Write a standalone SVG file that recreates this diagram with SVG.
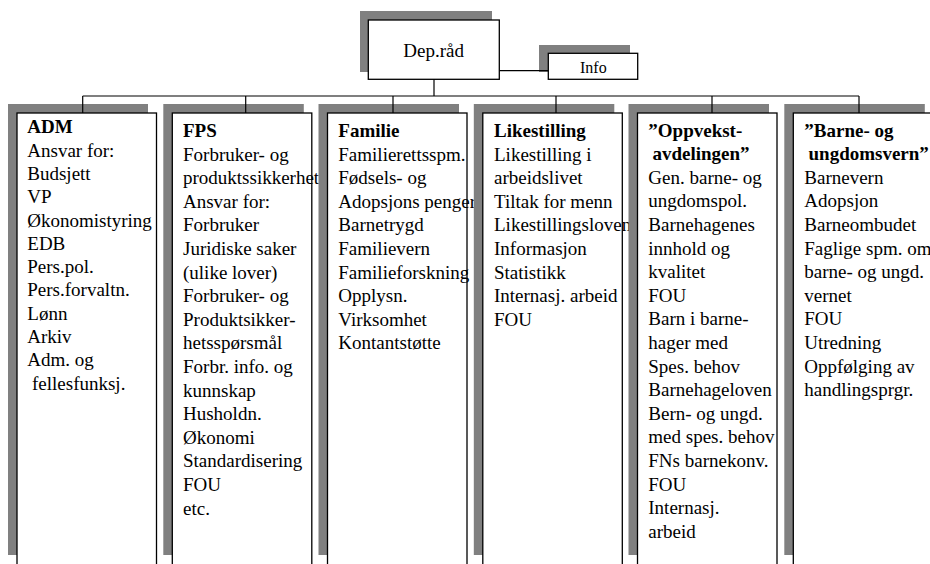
<svg xmlns="http://www.w3.org/2000/svg" width="930" height="564" viewBox="0 0 930 564">
<style>
.sh{fill:#808080;stroke:none}
.bx{fill:#fff;stroke:#000;stroke-width:1.3}
.t{font-size:19px;fill:#000}
.b{font-weight:bold}
.c{stroke:#000;stroke-width:1.2;fill:none}
</style>
<rect width="930" height="564" fill="#fff"/>
<g id="dep">
<rect class="sh" x="360" y="11" width="132" height="61"/>
<rect class="bx" x="368.3" y="20" width="131" height="59.3"/>
<text class="t" font-family="Liberation Serif, Times New Roman, serif" x="433.7" y="56.7" text-anchor="middle">Dep.råd</text>
</g>
<g id="info">
<rect class="sh" x="539" y="45" width="91" height="27"/>
<rect class="bx" x="548.3" y="53.3" width="89.4" height="26"/>
<text class="t" font-family="Liberation Serif, Times New Roman, serif" x="593.3" y="72.7" text-anchor="middle" style="font-size:16px">Info</text>
</g>
<g id="adm">
<rect class="sh" x="8" y="104" width="140" height="451"/>
<rect class="bx" x="17" y="113" width="139.5" height="453"/>
<text class="t" font-family="Liberation Serif, Times New Roman, serif">
<tspan class="b" x="27.3" y="133.3">ADM</tspan>
<tspan x="27.3" y="156.6">Ansvar for:</tspan>
<tspan x="27.3" y="179.9">Budsjett</tspan>
<tspan x="27.3" y="203.2">VP</tspan>
<tspan x="27.3" y="226.5">Økonomistyring</tspan>
<tspan x="27.3" y="249.8">EDB</tspan>
<tspan x="27.3" y="273.1">Pers.pol.</tspan>
<tspan x="27.3" y="296.4">Pers.forvaltn.</tspan>
<tspan x="27.3" y="319.7">Lønn</tspan>
<tspan x="27.3" y="343">Arkiv</tspan>
<tspan x="27.3" y="366.3">Adm. og</tspan>
<tspan x="32" y="389.6">fellesfunksj.</tspan>
</text>
</g>
<g id="fps">
<rect class="sh" x="163.3" y="104" width="140.5" height="451"/>
<rect class="bx" x="172.3" y="113" width="139.5" height="453"/>
<text class="t" font-family="Liberation Serif, Times New Roman, serif">
<tspan class="b" x="183" y="137">FPS</tspan>
<tspan x="183" y="160.6">Forbruker- og</tspan>
<tspan x="183" y="184.2">produktssikkerhet</tspan>
<tspan x="183" y="207.8">Ansvar for:</tspan>
<tspan x="183" y="231.4">Forbruker</tspan>
<tspan x="183" y="255">Juridiske saker</tspan>
<tspan x="183" y="278.6">(ulike lover)</tspan>
<tspan x="183" y="302.2">Forbruker- og</tspan>
<tspan x="183" y="325.8">Produktsikker-</tspan>
<tspan x="183" y="349.4">hetsspørsmål</tspan>
<tspan x="183" y="373">Forbr. info. og</tspan>
<tspan x="183" y="396.6">kunnskap</tspan>
<tspan x="183" y="420.2">Husholdn.</tspan>
<tspan x="183" y="443.8">Økonomi</tspan>
<tspan x="183" y="467.4">Standardisering</tspan>
<tspan x="183" y="491">FOU</tspan>
<tspan x="183" y="514.6">etc.</tspan>
</text>
</g>
<g id="familie">
<rect class="sh" x="318.5" y="104" width="140.5" height="451"/>
<rect class="bx" x="327.5" y="113" width="139.5" height="453"/>
<text class="t" font-family="Liberation Serif, Times New Roman, serif">
<tspan class="b" x="338.3" y="137">Familie</tspan>
<tspan x="338.3" y="160.6">Familierettsspm.</tspan>
<tspan x="338.3" y="184.2">Fødsels- og</tspan>
<tspan x="338.3" y="207.8">Adopsjons penger</tspan>
<tspan x="338.3" y="231.4">Barnetrygd</tspan>
<tspan x="338.3" y="255">Familievern</tspan>
<tspan x="338.3" y="278.6">Familieforskning</tspan>
<tspan x="338.3" y="302.2">Opplysn.</tspan>
<tspan x="338.3" y="325.8">Virksomhet</tspan>
<tspan x="338.3" y="349.4">Kontantstøtte</tspan>
</text>
</g>
<g id="likestilling">
<rect class="sh" x="473.8" y="104" width="140.5" height="451"/>
<rect class="bx" x="482.8" y="113" width="139.5" height="453"/>
<text class="t" font-family="Liberation Serif, Times New Roman, serif">
<tspan class="b" x="494" y="137">Likestilling</tspan>
<tspan x="494" y="160.6">Likestilling i</tspan>
<tspan x="494" y="184.2">arbeidslivet</tspan>
<tspan x="494" y="207.8">Tiltak for menn</tspan>
<tspan x="494" y="231.4">Likestillingsloven</tspan>
<tspan x="494" y="255">Informasjon</tspan>
<tspan x="494" y="278.6">Statistikk</tspan>
<tspan x="494" y="302.2">Internasj. arbeid</tspan>
<tspan x="494" y="325.8">FOU</tspan>
</text>
</g>
<g id="oppvekst">
<rect class="sh" x="628.5" y="104" width="140.5" height="451"/>
<rect class="bx" x="637.5" y="113" width="139.5" height="453"/>
<text class="t" font-family="Liberation Serif, Times New Roman, serif">
<tspan class="b" x="648.3" y="136.5">”Oppvekst-</tspan>
<tspan class="b" x="652.5" y="160.1">avdelingen”</tspan>
<tspan x="648.3" y="183.7">Gen. barne- og</tspan>
<tspan x="648.3" y="207.3">ungdomspol.</tspan>
<tspan x="648.3" y="230.9">Barnehagenes</tspan>
<tspan x="648.3" y="254.5">innhold og</tspan>
<tspan x="648.3" y="278.1">kvalitet</tspan>
<tspan x="648.3" y="301.7">FOU</tspan>
<tspan x="648.3" y="325.3">Barn i barne-</tspan>
<tspan x="648.3" y="348.9">hager med</tspan>
<tspan x="648.3" y="372.5">Spes. behov</tspan>
<tspan x="648.3" y="396.1">Barnehageloven</tspan>
<tspan x="648.3" y="419.7">Bern- og ungd.</tspan>
<tspan x="648.3" y="443.3">med spes. behov</tspan>
<tspan x="648.3" y="466.9">FNs barnekonv.</tspan>
<tspan x="648.3" y="490.5">FOU</tspan>
<tspan x="648.3" y="514.1">Internasj.</tspan>
<tspan x="648.3" y="537.7">arbeid</tspan>
</text>
</g>
<g id="barnevern">
<rect class="sh" x="784.3" y="104" width="140.5" height="451"/>
<rect class="bx" x="793.3" y="113" width="139.5" height="453"/>
<text class="t" font-family="Liberation Serif, Times New Roman, serif">
<tspan class="b" x="804.3" y="136.5">”Barne- og</tspan>
<tspan class="b" x="808.5" y="160.1">ungdomsvern”</tspan>
<tspan x="804.3" y="183.7">Barnevern</tspan>
<tspan x="804.3" y="207.3">Adopsjon</tspan>
<tspan x="804.3" y="230.9">Barneombudet</tspan>
<tspan x="804.3" y="254.5">Faglige spm. om</tspan>
<tspan x="804.3" y="278.1">barne- og ungd.</tspan>
<tspan x="804.3" y="301.7">vernet</tspan>
<tspan x="804.3" y="325.3">FOU</tspan>
<tspan x="804.3" y="348.9">Utredning</tspan>
<tspan x="804.3" y="372.5">Oppfølging av</tspan>
<tspan x="804.3" y="396.1">handlingsprgr.</tspan>
</text>
</g>
<g id="connectors" class="c">
<line x1="499.3" y1="70.7" x2="548.3" y2="70.7"/>
<line x1="434" y1="79.3" x2="434" y2="96"/>
<line x1="82.7" y1="96" x2="859" y2="96"/>
<line x1="82.7" y1="96" x2="82.7" y2="113"/>
<line x1="245.7" y1="96" x2="245.7" y2="113"/>
<line x1="393" y1="96" x2="393" y2="113"/>
<line x1="556" y1="96" x2="556" y2="113"/>
<line x1="712" y1="96" x2="712" y2="113"/>
<line x1="859" y1="96" x2="859" y2="113"/>
</g>
</svg>
